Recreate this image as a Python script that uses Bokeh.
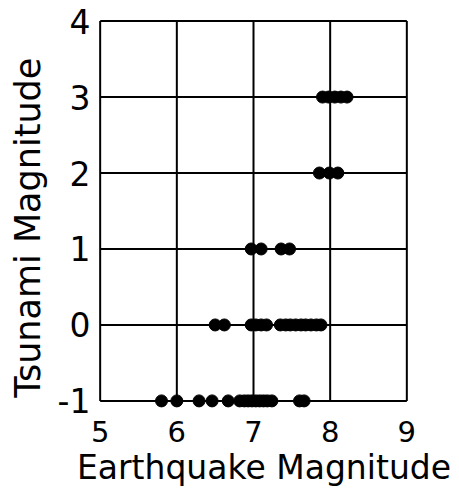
from bokeh.plotting import figure
from bokeh.models import Range1d, FixedTicker, CustomJSTickFormatter
from bokeh.embed import file_html
from bokeh.resources import INLINE

# Earthquake magnitude of events, grouped by tsunami magnitude class
m_minus1 = [5.8, 6.0, 6.29, 6.46, 6.67, 6.82, 6.88, 6.93, 6.98, 7.03, 7.08, 7.13, 7.18, 7.24, 7.6, 7.66]
m_0 = [6.5, 6.62, 6.97, 7.03, 7.1, 7.17, 7.35, 7.42, 7.48, 7.55, 7.62, 7.68, 7.75, 7.82, 7.88]
m_1 = [6.97, 7.1, 7.36, 7.47]
m_2 = [7.86, 7.99, 8.1]
m_3 = [7.9, 7.98, 8.06, 8.14, 8.22]

x_vals = m_minus1 + m_0 + m_1 + m_2 + m_3
y_vals = ([-1] * len(m_minus1) + [0] * len(m_0) + [1] * len(m_1)
          + [2] * len(m_2) + [3] * len(m_3))

x_ticks = [5, 6, 7, 8, 9]
y_ticks = [-1, 0, 1, 2, 3, 4]

FONT = "DejaVu Sans"
NBSP = "\u00a0"

p = figure(width=459, height=500, output_backend="svg", toolbar_location=None,
           x_range=Range1d(4.9, 9.1), y_range=Range1d(-1.1, 4.1),
           min_border_left=92, min_border_right=45, min_border_top=13,
           min_border_bottom=92)
p.outline_line_color = None
p.xgrid.visible = False
p.ygrid.visible = False

# Box grid drawn as segments that stop at the outer ticks
x0, x1 = x_ticks[0], x_ticks[-1]
y0, y1 = y_ticks[0], y_ticks[-1]
p.segment(x0=x_ticks, y0=[y0] * len(x_ticks), x1=x_ticks, y1=[y1] * len(x_ticks),
          line_color="black", line_width=2)
p.segment(x0=[x0] * len(y_ticks), y0=y_ticks, x1=[x1] * len(y_ticks), y1=y_ticks,
          line_color="black", line_width=2)

p.xaxis.ticker = FixedTicker(ticks=x_ticks)
p.yaxis.ticker = FixedTicker(ticks=y_ticks)
p.yaxis.formatter = CustomJSTickFormatter(
    code="return tick < 0 ? '-' + Math.abs(tick) : String(tick);")
for ax in (p.xaxis, p.yaxis):
    ax.axis_line_color = None
    ax.major_tick_line_color = None
    ax.minor_tick_line_color = None
    ax.major_tick_out = 0
    ax.major_label_text_font = FONT
    ax.major_label_text_color = "black"
    ax.axis_label_text_font = FONT
    ax.axis_label_text_font_style = "normal"
    ax.axis_label_text_color = "black"

p.xaxis.major_label_text_font_size = "29px"
p.yaxis.major_label_text_font_size = "33px"
p.xaxis.major_label_standoff = 12
p.yaxis.major_label_standoff = 2

p.xaxis.axis_label = NBSP * 2 + "Earthquake Magnitude"
p.xaxis.axis_label_text_font_size = "33px"
p.xaxis.axis_label_standoff = 3
# trailing spaces push the vertical title a little toward the bottom
p.yaxis.axis_label = "Tsunami Magnitude" + NBSP * 3
p.yaxis.axis_label_text_font_size = "35px"
p.yaxis.axis_label_standoff = 7

p.scatter(x_vals, y_vals, size=12, fill_color="black", line_color="black")

open("out.html", "w").write(file_html(p, INLINE))
